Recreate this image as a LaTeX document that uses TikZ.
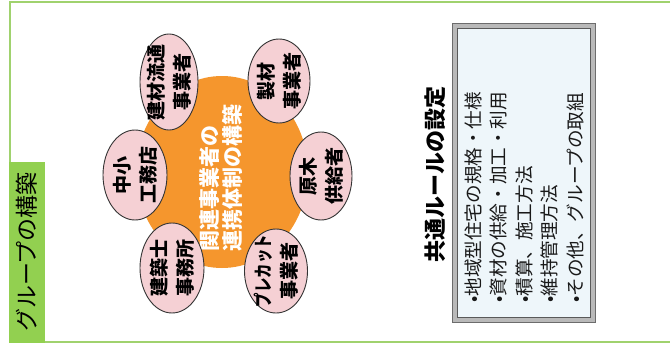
\documentclass[tikz,border=0pt]{standalone}
\usepackage{fontspec}
\setmainfont{Noto Sans CJK JP}
\usetikzlibrary{shapes.geometric}
\definecolor{framegreen}{RGB}{160,210,110}
\definecolor{labelgreen}{RGB}{146,208,80}
\definecolor{huborange}{RGB}{245,150,45}
\definecolor{pinkfill}{RGB}{245,208,212}
\definecolor{rulefill}{RGB}{238,246,250}
\tikzset{
  member/.style={ellipse, draw=black!80, line width=0.9pt, fill=pinkfill, inner sep=0pt},
  membertext/.style={rotate=90, align=center, font=\fontsize{19}{26}\selectfont\bfseries, text=black, inner sep=0pt},
  ruletext/.style={rotate=90, align=left, font=\fontsize{18.6}{25.5}\selectfont, text=black!90, inner sep=0pt},
}
\begin{document}
\begin{tikzpicture}[x=1pt,y=-1pt]
\useasboundingbox (0,0) rectangle (670,348);
% outer frame
\draw[framegreen, line width=2pt] (672,1.5) -- (9.5,1.5) -- (9.5,342) -- (672,342);
% label band
\fill[labelgreen] (8.5,162) rectangle (45,343);
\node[rotate=90, font=\fontsize{23}{24}\selectfont, text=black, inner sep=0pt] (label) at (27,252) {グループの構築};
% hub
\node[ellipse, fill=huborange, minimum width=172pt, minimum height=192pt, inner sep=0pt] (hub) at (222,172) {};
\node[rotate=90, anchor=west, align=left, font=\fontsize{21}{23}\selectfont\bfseries, text=white, inner sep=0pt] (hubtext) at (221,252) {関連事業者の\\連携体制の構築};
% members
\node[member, minimum width=58pt, minimum height=96pt] (e1) at (169,82) {};
\node[membertext] (t1) at (e1) {建材流通\\事業者};
\node[member, minimum width=62pt, minimum height=84pt] (e2) at (279,81) {};
\node[membertext] (t2) at (e2) {製材\\事業者};
\node[member, minimum width=64pt, minimum height=90pt] (e3) at (135,175) {};
\node[membertext] (t3) at (e3) {中小\\工務店};
\node[member, minimum width=62pt, minimum height=88pt] (e4) at (321,176) {};
\node[membertext] (t4) at (e4) {原木\\供給者};
\node[member, minimum width=64pt, minimum height=90pt] (e5) at (172,268) {};
\node[membertext] (t5) at (e5) {建築士\\事務所};
\node[member, minimum width=63pt, minimum height=84pt] (e6) at (276,271) {};
\node[membertext] (t6) at (e6) {\scalebox{0.76}[1]{プレカット}\\事業者};
% title
\node[rotate=90, font=\fontsize{22}{24}\selectfont\bfseries, text=black, inner sep=0pt] (title) at (435,174) {共通ルールの設定};
% rules box
\fill[rulefill] (452,23) rectangle (595,322);
\draw[gray!55, line width=4.5pt] (454.5,25.5) rectangle (592.5,319.5);
\draw[gray!85!black, line width=0.8pt] (452,23) rectangle (595,322);
\draw[gray!70!black, line width=0.6pt] (457,28) rectangle (590,317);
\node[ruletext, anchor=west] (rules) at (524,303) {•地域型住宅の規格・仕様\\•資材の供給・加工・利用\\•積算、施工方法\\•維持管理方法\\•その他、グループの取組};
\end{tikzpicture}
\end{document}
